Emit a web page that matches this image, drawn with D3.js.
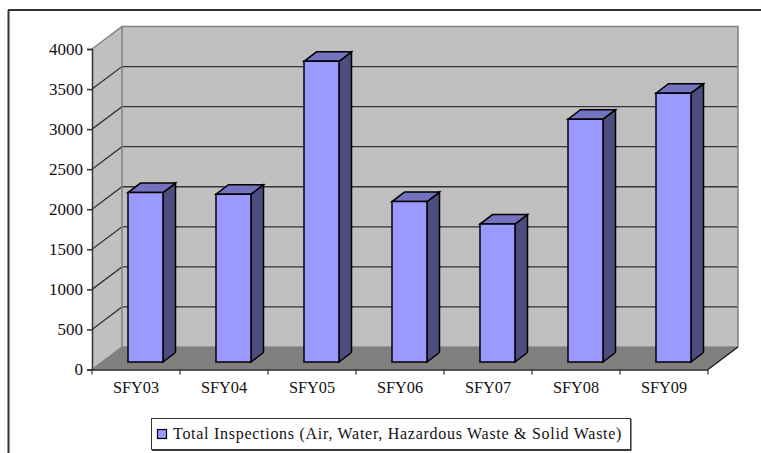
<!DOCTYPE html>
<html><head><meta charset="utf-8">
<script src="https://cdn.jsdelivr.net/npm/d3@7/dist/d3.min.js"></script>
<style>html,body{margin:0;padding:0;background:#fff}svg{display:block}text{font-family:"Liberation Serif",serif;fill:#111}</style>
</head><body><svg width="761" height="453"></svg>
<script>
const categories = ["SFY03","SFY04","SFY05","SFY06","SFY07","SFY08","SFY09"];
const totalInspections = [2115,2095,3752,2002,1721,3030,3355];
const yTicks = [0,500,1000,1500,2000,2500,3000,3500,4000];
const legendLabel = "Total Inspections (Air, Water, Hazardous Waste & Solid Waste)";

const svg = d3.select("svg");
const x = d3.scaleBand().domain(categories).range([92,708]).paddingInner(0).paddingOuter(0);
const y = d3.scaleLinear().domain([0,4000]).range([369.5,49]);
const dx = 30, dy = -22.5;         // wall depth
const bdx = 12.5, bdy = -9.5;      // bar depth
const barW = 35, barInset = 36, baseLift = 7.5;
const poly = (pts, fill, stroke, sw) => svg.append("polygon")
  .attr("points", pts.map(p=>p.join(",")).join(" "))
  .attr("fill", fill).attr("stroke", stroke||"none").attr("stroke-width", sw||0)
  .attr("stroke-linejoin","miter");

// frame
svg.append("path").attr("d","M8.5,453V10M8,10H761").attr("fill","none").attr("stroke","#333").attr("stroke-width",2);

const x0 = x.range()[0], x1 = x.range()[1], yb = y(0), yt = y(4000);
// side wall, back wall, floor
poly([[x0,yb],[x0+dx,yb+dy],[x0+dx,yt+dy],[x0,yt]],"#c0c0c0");
poly([[x0+dx,yb+dy],[x1+dx,yb+dy],[x1+dx,yt+dy],[x0+dx,yt+dy]],"#c0c0c0");
poly([[x0,yb],[x1,yb],[x1+dx,yb+dy],[x0+dx,yb+dy]],"#808080");
// gridlines
yTicks.slice(1,-1).forEach(t=>{
  svg.append("path").attr("d",`M${x0},${y(t)}L${x0+dx},${y(t)+dy}H${x1+dx}`)
    .attr("fill","none").attr("stroke","#333").attr("stroke-width",1.3);
});
// wall edges
svg.append("path").attr("d",`M${x0},${yt}L${x0+dx},${yt+dy}H${x1+dx}V${yb+dy}M${x0+dx},${yt+dy}V${yb+dy}L${x0},${yb}`)
  .attr("fill","none").attr("stroke","#808080").attr("stroke-width",1.5);
svg.append("path").attr("d",`M${x0+dx},${yb+dy}H${x1+dx}`).attr("stroke","#777").attr("stroke-width",1);
svg.append("path").attr("d",`M${x1},${yb}L${x1+dx},${yb+dy}`).attr("stroke","#111").attr("stroke-width",1.2);

// bars
categories.forEach((c,i)=>{
  const l = x(c)+barInset, r = l+barW, base = y(0)-baseLift, top = y(totalInspections[i])-baseLift;
  poly([[r,base],[r+bdx,base+bdy],[r+bdx,top+bdy],[r,top]],"#4d4d80","#000",1.5);
  poly([[l,top],[r,top],[r+bdx,top+bdy],[l+bdx,top+bdy]],"#7373bf","#000",1.5);
  poly([[l,base],[r,base],[r,top],[l,top]],"#9999ff","#000",1.5);
});

// axes
const yAxis = d3.axisLeft(y).tickValues(yTicks).tickSize(5).tickPadding(4).tickFormat(d3.format("d"));
const gy = svg.append("g").attr("transform",`translate(${x0},0)`).call(yAxis);
gy.selectAll("text").attr("font-size",17).style("font-family",'"Liberation Serif",serif').attr("dy","0.3em");
gy.selectAll("line,path").attr("stroke","#333").attr("stroke-width",1.5);
const xAxis = d3.axisBottom(x).tickSize(0).tickPadding(12);
const gx = svg.append("g").attr("transform",`translate(0,${yb})`).call(xAxis);
gx.selectAll("text").attr("font-size",16.3).style("font-family",'"Liberation Serif",serif');
gx.select("path").attr("stroke","#222").attr("stroke-width",1.5);
categories.concat("end").forEach((c,i)=>{
  const px = x0 + i*x.step();
  svg.append("line").attr("x1",px).attr("x2",px).attr("y1",yb).attr("y2",yb+5).attr("stroke","#333").attr("stroke-width",1.2);
});

// legend
svg.append("rect").attr("x",151.5).attr("y",418.5).attr("width",479).attr("height",31)
  .attr("fill","#fff").attr("stroke","#333").attr("stroke-width",1);
svg.append("path").attr("d","M631,419V450.5H152").attr("fill","none").attr("stroke","#444").attr("stroke-width",1.2);
svg.append("rect").attr("x",157.5).attr("y",429.5).attr("width",9).attr("height",9)
  .attr("fill","#9999ff").attr("stroke","#000").attr("stroke-width",1.2);
svg.append("text").attr("x",173).attr("y",439).attr("font-size",16).attr("letter-spacing",0.72).text(legendLabel);
</script></body></html>
